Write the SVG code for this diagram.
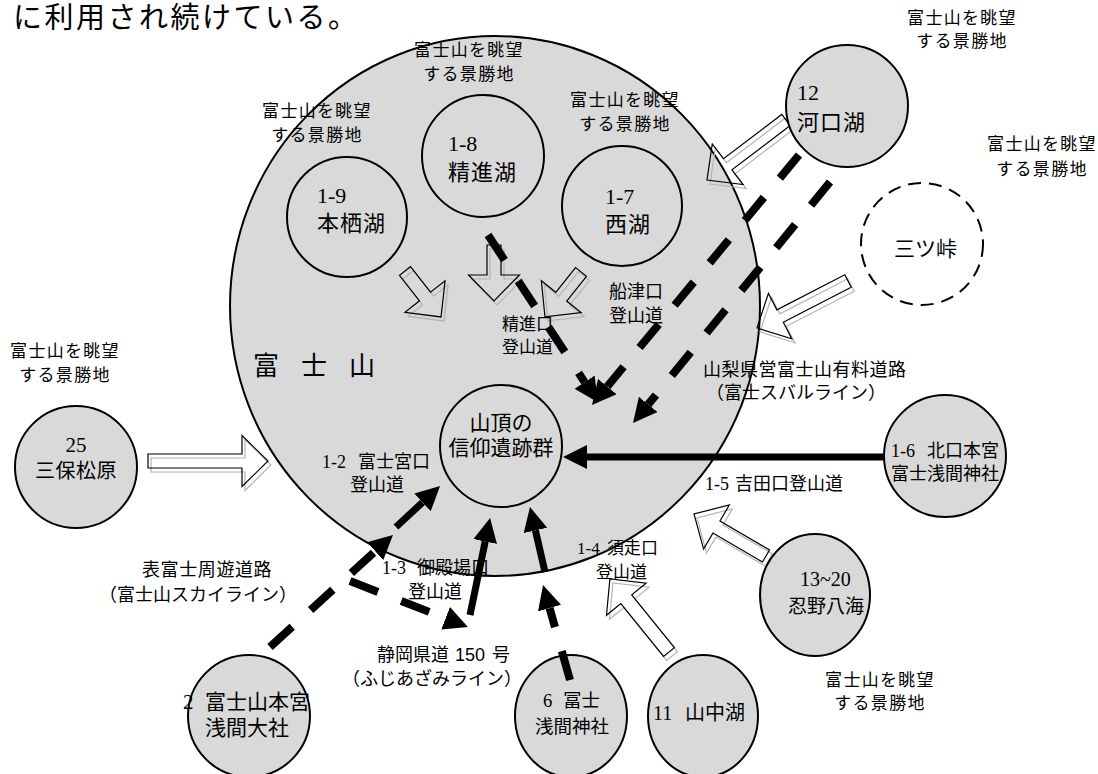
<svg xmlns="http://www.w3.org/2000/svg" xmlns:xlink="http://www.w3.org/1999/xlink" width="1098" height="774" viewBox="0 0 1098 774">
<style>
text{fill:#000}
.j{font-family:"Noto Sans CJK JP","Noto Sans",sans-serif}
.s{font-family:"Liberation Serif","Noto Sans CJK JP",serif}
.n{font-family:"Liberation Sans","Noto Sans CJK JP",sans-serif}
.lab{font-family:"Noto Sans CJK JP",sans-serif;font-size:17px;letter-spacing:1.3px;text-anchor:middle}
.node{fill:#d9d9d9;stroke:#000;stroke-width:2}
.blk{fill:none;stroke:#000;stroke-width:1.2}
.shd{fill:none;stroke:#b4b4b4;stroke-width:1.2}
.sol{stroke:#000;stroke-width:7;fill:none;marker-end:url(#ah)}
.dsh{stroke:#000;stroke-width:8;fill:none;stroke-dasharray:30 25;marker-end:url(#ah)}
</style>
<defs>
<marker id="ah" markerUnits="userSpaceOnUse" markerWidth="24" markerHeight="24" viewBox="0 -12 24 24" refX="0" refY="0" orient="auto"><path d="M0,-12 L24,0 L0,12 Z" fill="#000"/></marker>
<path id="a120" d="M0,-7 H94 V-25.5 L120,0 L94,25.5 V7 H0 Z"/>
<path id="a58" d="M0,-7 H32.4 V-25.5 L58.4,0 L32.4,25.5 V7 H0 Z"/>
<path id="a56" d="M0,-7 H30 V-25.5 L56,0 L30,25.5 V7 H0 Z"/>
<path id="a57" d="M0,-7 H31.6 V-25.5 L57.6,0 L31.6,25.5 V7 H0 Z"/>
<path id="a99" d="M0,-7 H73.2 V-25.5 L99.2,0 L73.2,25.5 V7 H0 Z"/>
<path id="a102" d="M0,-7 H76.4 V-25.5 L102.4,0 L76.4,25.5 V7 H0 Z"/>
<path id="a83" d="M0,-7 H57.4 V-25.5 L83.4,0 L57.4,25.5 V7 H0 Z"/>
<path id="a94" d="M0,-7 H67.9 V-25.5 L93.9,0 L67.9,25.5 V7 H0 Z"/>
</defs>
<rect width="1098" height="774" fill="#fff"/>
<text class="j" x="13" y="28" font-size="29" letter-spacing="2.5">に利用され続けている。</text>

<g id="fuji"><ellipse class="node" cx="495" cy="306" rx="265" ry="270"/></g>
<g id="motosu"><circle class="node" cx="347" cy="217" r="60"/></g>
<g id="shoji"><circle class="node" cx="483" cy="156" r="61"/></g>
<g id="sai"><circle class="node" cx="622" cy="206" r="60"/></g>
<g id="summit"><circle class="node" cx="501" cy="446" r="61"/></g>

<g id="view-arrows">
<g class="shd" transform="translate(3,4)">
<use xlink:href="#a120" transform="translate(148,461)"/>
<use xlink:href="#a58" transform="translate(405,271) rotate(51.9)"/>
<use xlink:href="#a56" transform="translate(494,245) rotate(90)"/>
<use xlink:href="#a57" transform="translate(581,272) rotate(128.7)"/>
<use xlink:href="#a99" transform="translate(786,120) rotate(142.8)"/>
<use xlink:href="#a102" transform="translate(848,281) rotate(152.7)"/>
<use xlink:href="#a83" transform="translate(766,556) rotate(210.3)"/>
<use xlink:href="#a94" transform="translate(669,652) rotate(231)"/>
</g>
<g class="blk">
<use xlink:href="#a120" transform="translate(148,461)"/>
<use xlink:href="#a58" transform="translate(405,271) rotate(51.9)"/>
<use xlink:href="#a56" transform="translate(494,245) rotate(90)"/>
<use xlink:href="#a57" transform="translate(581,272) rotate(128.7)"/>
<use xlink:href="#a99" transform="translate(786,120) rotate(142.8)"/>
<use xlink:href="#a102" transform="translate(848,281) rotate(152.7)"/>
<use xlink:href="#a83" transform="translate(766,556) rotate(210.3)"/>
<use xlink:href="#a94" transform="translate(669,652) rotate(231)"/>
</g>
</g>

<g id="kawaguchi"><circle class="node" cx="847" cy="106" r="61"/></g>
<g id="mitsutoge"><circle cx="922" cy="244" r="61" fill="none" stroke="#000" stroke-width="2" stroke-dasharray="13 8"/></g>
<g id="kitaguchi"><circle class="node" cx="945" cy="456" r="61"/></g>
<g id="oshino"><ellipse class="node" cx="815" cy="595" rx="55" ry="61"/></g>
<g id="yamanaka"><ellipse class="node" cx="703" cy="716" rx="55" ry="61"/></g>
<g id="fuji-sengen"><ellipse class="node" cx="571" cy="716" rx="56" ry="61"/></g>
<g id="hongu"><circle class="node" cx="249" cy="716" r="61"/></g>
<g id="miho"><circle class="node" cx="76" cy="467" r="61"/></g>

<g id="connectors">
<path class="sol" d="M884,457 H587"/>
<path class="dsh" d="M270,647 L375.2,551.2"/>
<path class="sol" d="M396,527 L422.5,502.4"/>
<path class="dsh" d="M350,581 L445.6,618.3"/>
<path class="sol" d="M470,615 L485.2,541.5"/>
<path class="dsh" d="M570,680 L549.6,608.1"/>
<path class="sol" d="M545,572 L535.4,530.4"/>
<path class="dsh" d="M488,235 L584.6,382.1"/>
<path class="dsh" d="M799,155 L607.3,386.5"/>
<path class="dsh" d="M830,182 L648.2,404.4"/>
</g>

<g id="labels">
<text class="lab" x="317" y="117">富士山を眺望</text><text class="lab" x="317" y="141">する景勝地</text>
<text class="lab" x="469" y="56">富士山を眺望</text><text class="lab" x="469" y="80">する景勝地</text>
<text class="lab" x="625" y="106">富士山を眺望</text><text class="lab" x="625" y="130">する景勝地</text>
<text class="lab" x="962" y="24">富士山を眺望</text><text class="lab" x="962" y="47">する景勝地</text>
<text class="lab" x="1042" y="150">富士山を眺望</text><text class="lab" x="1042" y="175">する景勝地</text>
<text class="lab" x="65" y="357">富士山を眺望</text><text class="lab" x="65" y="381">する景勝地</text>
<text class="lab" x="880" y="686">富士山を眺望</text><text class="lab" x="880" y="709">する景勝地</text>

<text class="s" x="317" y="203" font-size="22">1-9</text><text class="j" x="317" y="231" font-size="22" letter-spacing="1">本栖湖</text>
<text class="s" x="448" y="151" font-size="22">1-8</text><text class="j" x="448" y="180" font-size="22" letter-spacing="1">精進湖</text>
<text class="s" x="605" y="204" font-size="22">1-7</text><text class="j" x="605" y="232" font-size="22" letter-spacing="1">西湖</text>
<text class="s" x="797" y="100" font-size="22">12</text><text class="j" x="797" y="130" font-size="22" letter-spacing="1">河口湖</text>
<text class="j" x="894" y="256" font-size="21">三ツ峠</text>
<text class="s" x="76" y="452" font-size="21" text-anchor="middle">25</text><text class="j" x="76" y="478" font-size="20" letter-spacing="0.5" text-anchor="middle">三保松原</text>
<text class="j" x="501" y="430" font-size="21" text-anchor="middle">山頂の</text><text class="j" x="501" y="455" font-size="21" text-anchor="middle">信仰遺跡群</text>
<text class="j" x="253" y="375" font-size="26" letter-spacing="22">富士山</text>

<text x="322" y="468" font-size="18"><tspan class="s">1-2</tspan><tspan class="j" x="358">富士宮口</tspan></text>
<text class="j" x="350" y="491" font-size="18">登山道</text>
<text class="j" x="502" y="330" font-size="17">精進口</text><text class="j" x="502" y="353" font-size="17">登山道</text>
<text class="j" x="609" y="298" font-size="18">船津口</text><text class="j" x="609" y="322" font-size="18">登山道</text>
<text class="j" x="703" y="376" font-size="18" letter-spacing="0.5">山梨県営富士山有料道路</text>
<text class="j" x="706" y="399" font-size="18">（富士スバルライン）</text>
<text x="705" y="490" font-size="18"><tspan class="s">1-5</tspan><tspan class="j" x="735">吉田口登山道</tspan></text>
<text x="891" y="457" font-size="18"><tspan class="s">1-6</tspan><tspan class="j" x="927">北口本宮</tspan></text>
<text class="j" x="891" y="480" font-size="18">富士浅間神社</text>
<text class="s" x="800" y="586" font-size="20">13~20</text><text class="j" x="788" y="613" font-size="19">忍野八海</text>
<text x="653" y="720" font-size="20"><tspan class="s">11</tspan><tspan class="j" x="685">山中湖</tspan></text>
<text x="543" y="707" font-size="18.5"><tspan class="s">6</tspan><tspan class="j" x="563">冨士</tspan></text>
<text class="j" x="535" y="733" font-size="18.5">浅間神社</text>
<text x="183" y="709" font-size="21"><tspan class="s">2</tspan><tspan class="j" x="205">富士山本宮</tspan></text>
<text class="j" x="205" y="735" font-size="21">浅間大社</text>
<text x="382" y="574" font-size="18"><tspan class="s">1-3</tspan><tspan class="j" x="417">御殿場口</tspan></text>
<text class="j" x="408" y="598" font-size="18">登山道</text>
<text x="577" y="554" font-size="17"><tspan class="s">1-4</tspan><tspan class="j" x="607">須走口</tspan></text>
<text class="j" x="596" y="578" font-size="17">登山道</text>
<text class="j" x="142" y="576" font-size="18" letter-spacing="0.6">表富士周遊道路</text>
<text class="j" x="99" y="601" font-size="18">（富士山スカイライン）</text>
<text x="377" y="661" font-size="18"><tspan class="j">静岡県道</tspan><tspan class="n" x="455">150</tspan><tspan class="j" x="492">号</tspan></text>
<text class="j" x="342" y="685" font-size="18">（ふじあざみライン）</text>
</g>
</svg>
